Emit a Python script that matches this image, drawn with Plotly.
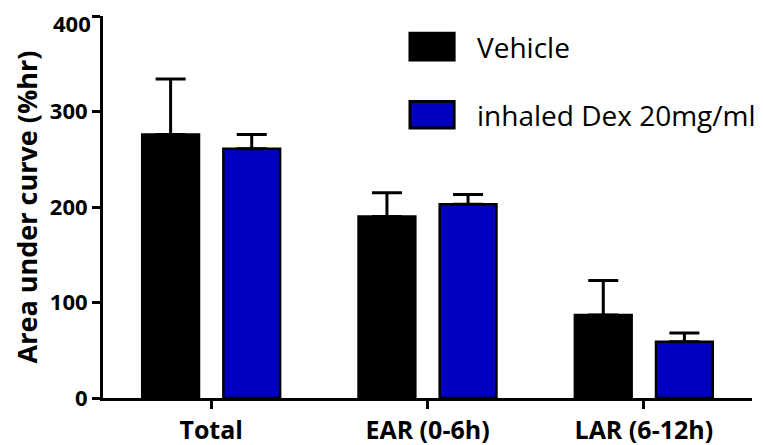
import plotly.graph_objects as go

categories = ["Total", "EAR (0-6h)", "LAR (6-12h)"]
vehicle = [276, 190, 87]
vehicle_err = [58, 25, 36]
dex = [261, 203, 59]
dex_err = [15, 10, 9]
series_names = ["Vehicle", "inhaled Dex 20mg/ml"]
colors = ["#000000", "#0000BE"]
y_ticks = [0, 100, 200, 300, 400]
y_ticktext = ["0", "100", "200", "300", ""]  # top label placed just below its tick

FONT = "Open Sans"

fig = go.Figure()
for name, vals, errs, col in [(series_names[0], vehicle, vehicle_err, colors[0]),
                              (series_names[1], dex, dex_err, colors[1])]:
    fig.add_trace(go.Bar(
        x=categories, y=vals, name=name,
        marker=dict(color=col, line=dict(color="black", width=2.5)),
        error_y=dict(type="data", array=errs, arrayminus=[0] * len(errs),
                     symmetric=False, color="black", thickness=3, width=15),
        showlegend=False,
    ))

# top tick label, nudged down so it is not clipped at the page top
fig.add_annotation(xref="paper", yref="y", x=0, y=y_ticks[-1], text=str(y_ticks[-1]),
                   showarrow=False, xanchor="right", yanchor="middle",
                   xshift=-10, yshift=-7,
                   font=dict(family=FONT, size=22, color="black", weight="bold"))

# legend drawn as swatches + text (larger than plotly's built-in symbols)
leg_x0, leg_x1, text_x = 0.473, 0.541, 0.573
rows = [(0.955, 0.885, 0.919), (0.776, 0.707, 0.741)]
for (y1, y0, yt), name, col in zip(rows, series_names, colors):
    fig.add_shape(type="rect", xref="paper", yref="paper",
                  x0=leg_x0, x1=leg_x1, y0=y0, y1=y1,
                  fillcolor=col, line=dict(color="black", width=3))
    fig.add_annotation(xref="paper", yref="paper", x=text_x, y=yt,
                       text=name, showarrow=False, xanchor="left", yanchor="middle",
                       font=dict(family=FONT, size=28, color="black"))

# the page body adds an 8px offset, so the figure is sized to fit the window
fig.update_layout(
    width=755, height=437,
    margin=dict(l=95, r=11, t=8, b=47),
    plot_bgcolor="white", paper_bgcolor="white",
    barmode="group", bargap=0.25, bargroupgap=0.3,
    font=dict(family=FONT, color="black"),
    xaxis=dict(
        range=[-0.5, 2.5], showline=True, linecolor="black", linewidth=3,
        ticks="outside", ticklen=8, tickwidth=3, tickcolor="black", automargin=False,
        tickfont=dict(family=FONT, size=25, color="black", weight="bold"),
        showgrid=False, zeroline=False,
    ),
    yaxis=dict(
        range=[0, 400], tickvals=y_ticks, ticktext=y_ticktext,
        showline=True, linecolor="black", linewidth=3,
        ticks="outside", ticklen=8, tickwidth=3, tickcolor="black", automargin=False,
        ticklabeloverflow="allow",
        tickfont=dict(family=FONT, size=22, color="black", weight="bold"),
        showgrid=False, zeroline=False,
        title=dict(text="Area under curve (%hr)", standoff=10,
                   font=dict(family=FONT, size=27, color="black", weight="bold")),
    ),
)

fig.write_html("out.html")
